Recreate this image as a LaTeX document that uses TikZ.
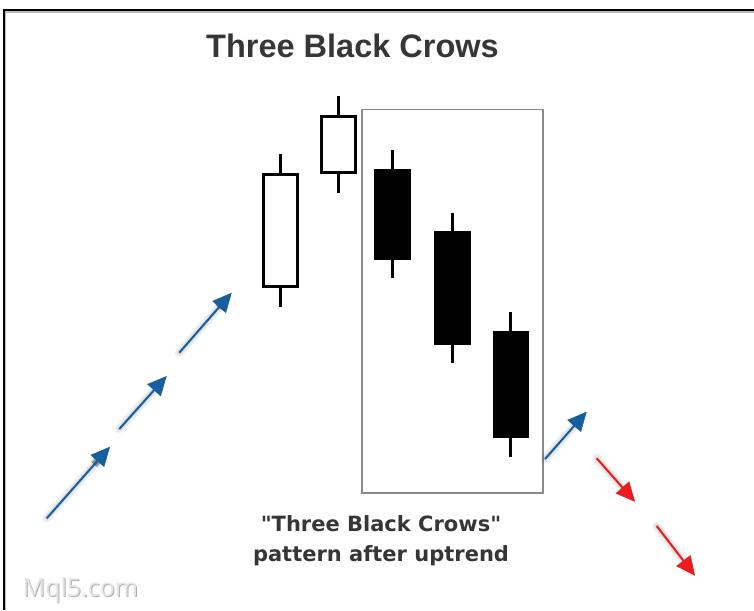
\documentclass[tikz,border=0pt]{standalone}
\usepackage{fontspec}
\setmainfont{Liberation Sans}
\newfontfamily\capfont{DejaVu Sans}
\newfontfamily\wmfont{Open Sans}
\usetikzlibrary{arrows.meta,calc}
\definecolor{upblue}{HTML}{165F9F}
\definecolor{downred}{HTML}{EE1C1C}
\definecolor{txtgray}{HTML}{363636}
\definecolor{boxgray}{HTML}{8A8A8A}
\tikzset{
  wick/.style={line width=3pt, line cap=butt},
  whitebody/.style={draw=black, fill=white, line width=3pt},
  blackbody/.style={fill=black},
  trendarrow/.style={line width=2pt, -{Triangle[length=19pt,width=17pt]}},
  shaftshadow/.style={draw=black, opacity=0.05, line cap=round},
  headshadow/.style={trendarrow, draw=black, opacity=0.2},
}
\begin{document}
\begin{tikzpicture}[x=1pt,y=-1pt]
\useasboundingbox (0,0) rectangle (754,610);
\fill[white] (0,0) rectangle (754,610);
% frame
\draw[gray!55, line width=1.5pt] (5,12.2) -- (754,12.2);
\draw[gray!55, line width=1.5pt] (5.2,12) -- (5.2,610);
\draw[black, line width=2pt] (2.5,10) -- (754,10);
\draw[black, line width=2pt] (3.5,9) -- (3.5,610);

% title
\node[font=\bfseries\fontsize{32.5}{38}\selectfont, text=txtgray, anchor=base] (title) at (352.5,58) {Three Black Crows};

% pattern box
\draw[boxgray, line width=1.5pt] (362,109.5) rectangle (543,493);

% candles
\draw[wick] (280,154.3) -- (280,307.3);
\draw[whitebody] (263.8,174.8) rectangle (297.2,286.8);
\draw[wick] (338.3,96) -- (338.3,193.3);
\draw[whitebody] (321.8,116.8) rectangle (355.2,172.5);
\draw[wick] (392.3,150) -- (392.3,278.3);
\fill[blackbody] (374,169) rectangle (411,260);
\draw[wick] (452.3,212.7) -- (452.3,363.3);
\fill[blackbody] (434.3,231.3) rectangle (471,345);
\draw[wick] (510.7,312) -- (510.7,457);
\fill[blackbody] (492.7,330.7) rectangle (529,437.7);

% arrow coordinates
\coordinate (a1s) at (46.7,518.3);  \coordinate (a1e) at (110,446.7);
\coordinate (a2s) at (119.3,429);   \coordinate (a2e) at (166.7,376);
\coordinate (a3s) at (179.3,352.7); \coordinate (a3e) at (231.7,292.7);
\coordinate (a4s) at (545,459);     \coordinate (a4e) at (586.7,411.7);
\coordinate (r1s) at (596.7,458.3); \coordinate (r1e) at (635,501.7);
\coordinate (r2s) at (656.7,526);   \coordinate (r2e) at (695,575.7);

% shadows (layered to suggest a blur)
\foreach \dx/\dy/\w in {4/6/3, 6/8/6, 8/10/9}{
  \begin{scope}[shift={(\dx,\dy)}]
    \foreach \s/\e in {a1s/a1e,a2s/a2e,a3s/a3e,a4s/a4e,r1s/r1e,r2s/r2e}{
      \draw[shaftshadow, line width=\w pt] (\s) -- ($(\s)!0.8!(\e)$);
      \draw[headshadow, line width=\w pt] ($(\s)!0.75!(\e)$) -- (\e);
    }
  \end{scope}
}

% arrows
\draw[trendarrow, upblue] (a1s) -- (a1e);
\draw[trendarrow, upblue] (a2s) -- (a2e);
\draw[trendarrow, upblue] (a3s) -- (a3e);
\draw[trendarrow, upblue] (a4s) -- (a4e);
\draw[trendarrow, downred] (r1s) -- (r1e);
\draw[trendarrow, downred] (r2s) -- (r2e);

% caption
\node[font=\capfont\bfseries\fontsize{21}{30}\selectfont, text=txtgray, align=center] (caption) at (381,541) {"Three Black Crows"\\pattern after uptrend};

% watermark
\node[font=\wmfont\fontsize{25}{30}\selectfont, text=gray!60, anchor=base west] (wmshadow) at (20.2,597.6) {Mql5.com};
\node[font=\wmfont\fontsize{25}{30}\selectfont, text=gray!20, anchor=base west] (wm) at (19.2,596.6) {Mql5.com};
\end{tikzpicture}
\end{document}
